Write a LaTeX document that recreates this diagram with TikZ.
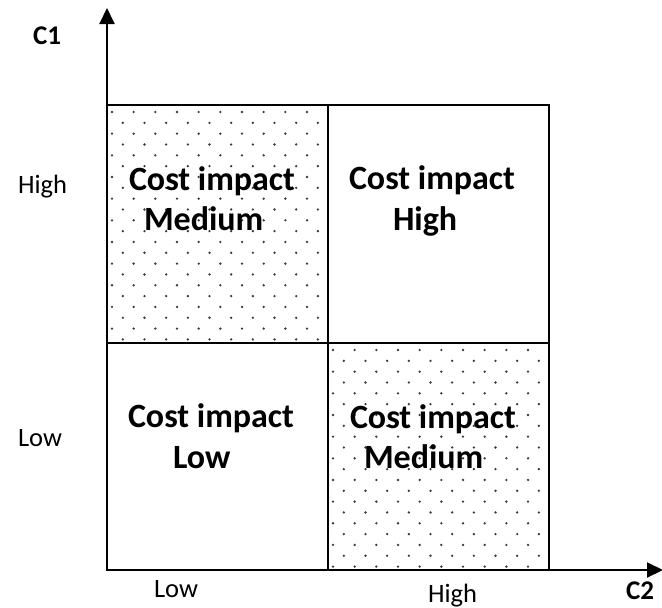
\documentclass[tikz,border=0pt]{standalone}
\usepackage{fontspec}
\setmainfont{Carlito}
\usetikzlibrary{arrows.meta}
\begin{document}
\begin{tikzpicture}[x=1pt, y=-1pt, line width=2pt,
  >={Triangle[length=16pt,width=15pt]},
  cell/.style={font=\fontsize{34}{40}\selectfont\bfseries, anchor=base west, inner sep=0pt},
  tag/.style={font=\fontsize{26.5}{32}\selectfont, anchor=base west, inner sep=0pt},
  axisname/.style={font=\fontsize{27}{32}\selectfont\bfseries, anchor=base west, inner sep=0pt}]
\useasboundingbox (0,0) rectangle (662,608);
\definecolor{dotgray}{HTML}{3A3A3A}
\coordinate (origin) at (107,570);
\coordinate (ytip) at (107,8);
\coordinate (xtip) at (663,570);
\foreach \bx/\by/\bh in {107/105/238, 328/343/227} {
  \begin{scope}
    \clip (\bx,\by) rectangle (\bx+221,\by+\bh);
    \foreach \r in {0,...,21} {
      \pgfmathsetmacro\xo{mod(\r,2)*10.83}
      \foreach \c in {-1,...,10}
        \fill[dotgray] (\bx+5+\xo+21.67*\c, \by+7+10.83*\r) circle (1.3pt);
    }
  \end{scope}
}
\draw (107,105) rectangle (328,343);
\draw (328,105) rectangle (549,343);
\draw (107,343) rectangle (328,570);
\draw (328,343) rectangle (549,570);
\draw[->] (origin) -- (ytip);
\draw[->] (origin) -- (xtip);
\node[axisname] (c1) at (32,44) {C1};
\node[axisname] (c2) at (625,599) {C2};
\node[tag] (yhigh) at (17,193) {High};
\node[tag] (ylow) at (17,446) {Low};
\node[tag] (xlow) at (153,597) {Low};
\node[tag] (xhigh) at (427,602) {High};
\node[cell] (tla) at (128,190) {Cost impact};
\node[cell] (tlb) at (143,230) {Medium};
\node[cell] (tra) at (348,189) {Cost impact};
\node[cell] (trb) at (392,230) {High};
\node[cell] (bla) at (127,427) {Cost impact};
\node[cell] (blb) at (172,468) {Low};
\node[cell] (bra) at (349,428) {Cost impact};
\node[cell] (brb) at (363,468) {Medium};
\end{tikzpicture}
\end{document}
